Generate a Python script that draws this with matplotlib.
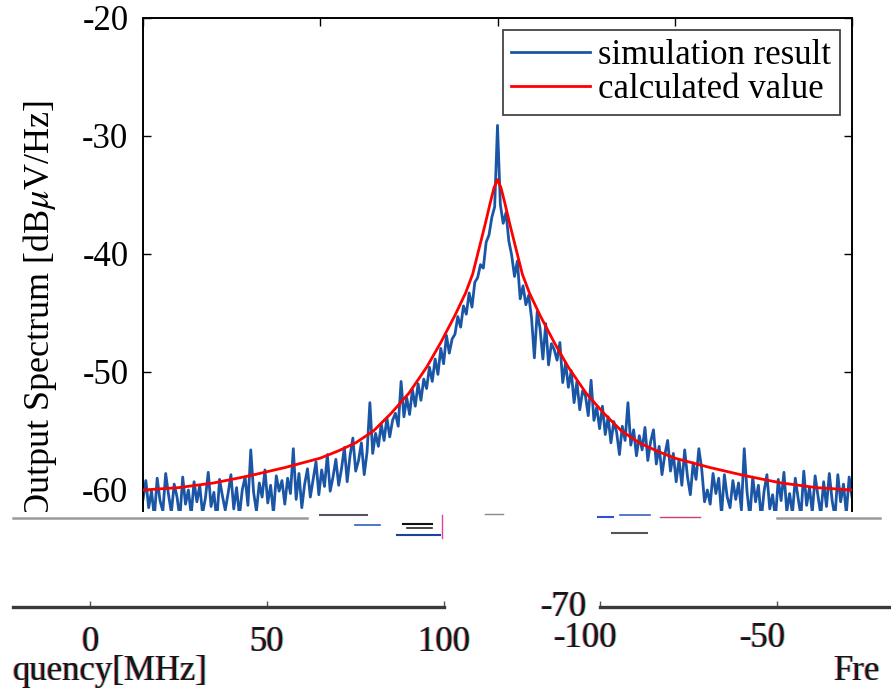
import numpy as np
import matplotlib
matplotlib.use('Agg')
import matplotlib.pyplot as plt
from matplotlib.lines import Line2D
from matplotlib.transforms import Bbox, TransformedBbox

# ---------------- data ----------------
sim_freq = np.linspace(-100, 100, 251)          # MHz, 0.8 MHz steps
sim_level = [
    -60.8, -59.2, -61.5, -60.1, -62.3, -59.0, -60.9, -61.8, -58.6, -60.4,
    -61.9, -59.5, -60.6, -62.4, -58.9, -61.2, -60.0, -62.1, -59.3, -61.0,
    -59.6, -62.0, -60.7, -58.5, -61.4, -60.2, -62.6, -59.1, -60.5, -61.7,
    -60.3, -58.7, -61.6, -59.8, -62.2, -60.0, -58.9, -61.3, -56.6, -60.2,
    -61.8, -59.4, -60.6, -58.3, -61.1, -59.6, -62.0, -58.8, -60.1, -59.2,
    -61.2, -59.0, -60.3, -56.5, -60.8, -58.6, -61.5, -59.5, -58.2, -60.6,
    -59.1, -57.6, -60.4, -58.3, -59.7, -57.0, -60.1, -58.9, -57.4, -59.6,
    -58.2, -56.4, -59.3, -57.1, -55.6, -58.4, -57.5, -56.0, -58.7, -56.8,
    -52.6, -56.9, -55.2, -56.3, -54.4, -55.8, -53.9, -55.5, -54.1, -53.5,
    -54.6, -50.8, -53.8, -52.2, -53.6, -51.5, -52.9, -51.0, -52.4, -50.6,
    -51.4, -49.6, -50.8, -48.9, -50.2, -48.0, -49.3, -46.9, -48.4, -47.2,
    -46.8, -45.3, -46.2, -44.4, -45.1, -43.3, -44.5, -42.4, -42.0, -40.9,
    -41.2, -39.0, -38.4, -36.9, -36.0, -29.1, -35.8, -37.4, -36.5, -38.9,
    -40.1, -41.9, -40.6, -43.8, -42.7, -44.3, -43.5, -45.4, -48.8, -44.9,
    -46.3, -48.9, -45.9, -49.4, -47.6, -48.1, -49.0, -47.5, -50.9, -49.2,
    -51.3, -49.9, -52.6, -50.8, -53.2, -51.6, -52.0, -53.7, -50.7, -54.1,
    -53.0, -54.8, -52.9, -55.3, -53.8, -56.0, -54.2, -55.1, -57.0, -54.6,
    -55.8, -52.6, -56.2, -54.9, -57.1, -55.4, -56.6, -54.7, -57.5, -55.9,
    -54.9, -57.8, -56.3, -58.7, -57.0, -55.8, -58.4, -56.9, -59.3, -57.4,
    -59.6, -56.6, -58.9, -60.4, -57.7, -59.1, -56.5, -58.2, -61.0, -60.0,
    -61.2, -58.6, -60.3, -59.0, -62.1, -58.7, -60.6, -61.5, -59.2, -60.8,
    -59.4, -61.7, -56.5, -60.2, -62.3, -58.9, -61.0, -59.6, -62.5, -60.1,
    -58.7, -61.6, -60.4, -62.4, -59.1, -60.9, -58.5, -61.8, -60.3, -62.0,
    -59.0, -60.7, -62.2, -58.4, -61.3, -59.8, -61.9, -58.8, -60.5, -62.1,
    -59.3, -61.4, -58.6, -60.9, -62.3, -58.7, -61.0, -59.5, -62.0, -58.9,
    -60.6,
]

calc_freq = [-100, -90, -80, -70, -60, -55, -50, -45, -40, -35, -30, -25, -20,
             -16, -12, -9, -7, -5, -3.5, -2, -1, 0,
             1, 2, 3.5, 5, 7, 9, 12, 16, 20, 25, 30, 35, 40, 45, 50, 55, 60,
             70, 80, 90, 100]
calc_level = [-60.0, -59.8, -59.4, -58.8, -58.1, -57.7, -57.3, -56.7, -56.0, -55.0, -53.5, -51.8, -49.6,
              -47.5, -45.2, -43.3, -41.7, -39.3, -37.5, -35.6, -34.4, -33.7,
              -34.4, -35.6, -37.5, -39.3, -41.7, -43.3, -45.2, -47.5, -49.6, -51.8, -53.5, -55.0, -56.0,
              -56.7, -57.3, -57.7, -58.1, -58.8, -59.4, -59.8, -60.0]

y_ticks = [-60, -50, -40, -30, -20]
x_ticks = [-100, -50, 0, 50, 100]
frag_left_ticks = [0, 50, 100]
frag_right_ticks = [-100, -50]
series_names = ['simulation result', 'calculated value']
y_label = 'Output Spectrum [dB$\\mu$V/Hz]'

# ---------------- style ----------------
W, H = 891, 692
plt.rcParams['font.family'] = ['Liberation Serif', 'DejaVu Serif']
plt.rcParams['mathtext.fontset'] = 'stix'
plt.rcParams['axes.unicode_minus'] = False

fig = plt.figure(figsize=(W / 100, H / 100), dpi=100)


def fx(x):
    return x / W


def fy(y):
    return 1 - y / H


# main axes (upper, visible part of the plot)
ax = fig.add_axes([fx(143), fy(511), fx(852) - fx(143), fy(18) - fy(511)])
ax.plot(sim_freq, sim_level, color='#1a56a5', lw=2.0, label=series_names[0], zorder=2)
ax.plot(calc_freq, calc_level, color='#ff0000', lw=2.0, label=series_names[1], zorder=3)
ax.set_xlim(-100, 100)
ax.set_ylim(-61.78, -20)
ax.set_yticks(y_ticks)
ax.set_xticks(x_ticks)
ax.tick_params(axis='both', direction='in', length=6, width=1, labelsize=25,
               top=True, right=True, bottom=False, labelbottom=False)
ax.tick_params(axis='y', pad=10.5)
ax.spines['bottom'].set_visible(False)
for s in ['left', 'right', 'top']:
    ax.spines[s].set_linewidth(1.4)

leg = ax.legend(loc='upper right', bbox_to_anchor=(fx(840), fy(30)),
                bbox_transform=fig.transFigure, fontsize=25, frameon=True,
                fancybox=False, edgecolor='#444444', framealpha=1,
                borderpad=0.25, labelspacing=0.05, handlelength=2.25,
                handletextpad=0.25, borderaxespad=0)
leg.get_frame().set_linewidth(1.3)
for h in leg.get_lines():
    h.set_linewidth(2.0)

# y label, cut at the strip boundary
yl = fig.text(fx(40), fy(310), y_label, rotation=90, ha='center', va='center', fontsize=26)
yl.set_clip_box(TransformedBbox(Bbox([[0, fy(512)], [1, 1]]), fig.transFigure))
yl.set_clip_on(True)

# grey separator lines
for x0, x1 in [(13, 307), (777, 880)]:
    fig.add_artist(Line2D([fx(x0), fx(x1)], [fy(518)] * 2, color='#9a9a9a', lw=1.8))

# small scrambled fragments in the strip
frags = [(320, 367, 515, '#555566', 1.5), (355, 380, 525, '#3060c0', 1.2),
         (403, 432, 524, '#111111', 1.5), (407, 432, 528, '#222222', 1.2),
         (397, 440, 535, '#2040a0', 1.5), (485, 503, 514, '#888888', 1.0),
         (598, 613, 517, '#3050d0', 1.5), (620, 650, 515, '#4060c0', 1.2),
         (612, 647, 533, '#555555', 1.5), (660, 700, 517, '#d04070', 1.0)]
for x0, x1, y, c, w in frags:
    fig.add_artist(Line2D([fx(x0), fx(x1)], [fy(y)] * 2, color=c, lw=w))
fig.add_artist(Line2D([fx(442), fx(442)], [fy(515), fy(538)], color='#e040a0', lw=1.0))

layers = [('#ff3b3b', -1.0, 0.8), ('#3cd6e6', 1.0, 0.8), ('#1c1414', 0.0, 1.0)]


def fragment(x0, x1, f0, f1, ticks, pad, dx_lab):
    # axis line with ticks
    a = fig.add_axes([fx(x0), fy(607), fx(x1) - fx(x0), 0.02])
    a.set_xlim(f0, f1)
    a.set_xticks(ticks)
    a.set_yticks([])
    a.patch.set_visible(False)
    for s in a.spines.values():
        s.set_visible(False)
    a.spines['bottom'].set_visible(True)
    a.spines['bottom'].set_linewidth(2.4)
    a.spines['bottom'].set_color('#3a3a3a')
    a.tick_params(axis='x', direction='in', length=4, width=1, color='#555555',
                  labelbottom=False)
    # colour-fringed tick labels
    for col, off, alp in layers:
        b = fig.add_axes([fx(x0 + dx_lab + off), fy(607), fx(x1) - fx(x0), 0.02])
        b.set_xlim(f0, f1)
        b.set_xticks(ticks)
        b.set_yticks([])
        b.patch.set_visible(False)
        for s in b.spines.values():
            s.set_visible(False)
        b.tick_params(axis='x', length=0, labelsize=25, labelcolor=col, pad=pad)
        for lab in b.get_xticklabels():
            lab.set_alpha(alp)


fragment(13, 444, -21.75, 100.0, frag_left_ticks, 14, 0)
fragment(600, 891, -100, -17.9, frag_right_ticks, 11, -14)


def fringe_text(x, y, s, **kw):
    for col, off, alp in layers:
        fig.text(fx(x + off), fy(y), s, color=col, alpha=alp, fontsize=25, **kw)


fringe_text(587, 607, '-70', ha='right', va='center')
fringe_text(13, 680, 'quency[MHz]', ha='left', va='baseline')
fringe_text(834, 680, 'Fre', ha='left', va='baseline')

fig.savefig('out.png', dpi=100)
